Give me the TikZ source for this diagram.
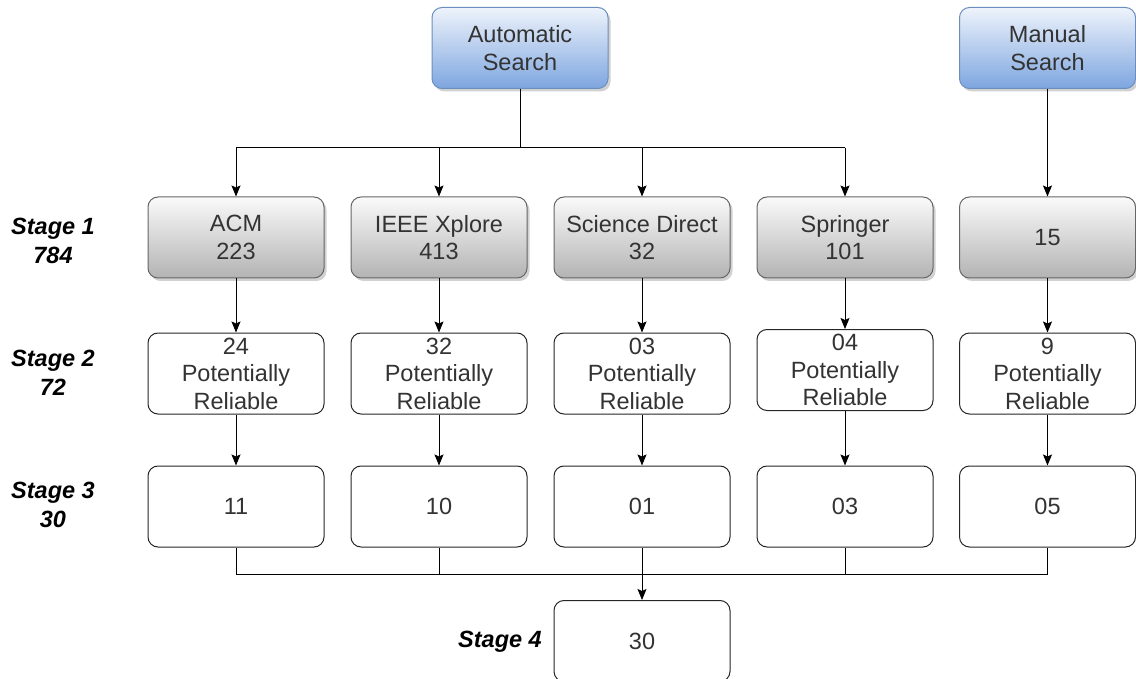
\documentclass[tikz,border=0pt]{standalone}
\usepackage{fontspec}
\setmainfont{Liberation Sans}
\usetikzlibrary{arrows.meta,shadows}
\definecolor{txt}{HTML}{333333}
\definecolor{blueedge}{HTML}{6C8EBF}
\definecolor{bluetop}{HTML}{EEF3FB}
\definecolor{bluemid}{HTML}{B5CCEE}
\definecolor{bluebot}{HTML}{7EA6E0}
\definecolor{grayedge}{HTML}{666666}
\definecolor{graytop}{HTML}{FAFAFA}
\definecolor{graymid}{HTML}{DADADA}
\definecolor{graybot}{HTML}{B3B3B3}
\begin{document}
\begin{tikzpicture}[x=1pt,y=-1pt,
  box/.style={draw=black!85, rounded corners=10pt, minimum width=176pt, minimum height=81pt,
    align=center, text=txt, font=\fontsize{23.5}{27.5}\selectfont, line width=1pt, inner sep=0pt},
  shad/.style={drop shadow={shadow xshift=2.5pt, shadow yshift=-3pt, opacity=0.3, fill=black!60}},
  bluebox/.style={box, shad, draw=blueedge, top color=bluetop, middle color=bluemid, bottom color=bluebot},
  graybox/.style={box, shad, draw=grayedge, top color=graytop, middle color=graymid, bottom color=graybot},
  whitebox/.style={box, fill=white},
  lab/.style={align=center, font=\fontsize{23.5}{28.5}\selectfont\bfseries\itshape, inner sep=0pt},
  line/.style={draw=black, line width=1pt},
  arr/.style={line, -{Stealth[length=11pt,width=9pt,inset=2pt]}}
]
\useasboundingbox (0,0) rectangle (1136,679);

% top sources
\node[bluebox] (auto) at (520,48) {Automatic\\Search};
\node[bluebox] (manual) at (1047.5,48) {Manual\\Search};

% stage 1
\node[graybox] (acm) at (236,237.5) {ACM\\223};
\node[graybox] (ieee) at (439,237.5) {IEEE Xplore\\413};
\node[graybox] (sd) at (642,237.5) {Science Direct\\32};
\node[graybox] (spr) at (845,237.5) {Springer\\101};
\node[graybox] (man) at (1047.5,237.5) {15};

% stage 2
\node[whitebox] (acm2) at (236,373.5) {24\\Potentially\\Reliable};
\node[whitebox] (ieee2) at (439,373.5) {32\\Potentially\\Reliable};
\node[whitebox] (sd2) at (642,373.5) {03\\Potentially\\Reliable};
\node[whitebox] (spr2) at (845,370) {04\\Potentially\\Reliable};
\node[whitebox] (man2) at (1047.5,373.5) {9\\Potentially\\Reliable};

% stage 3
\node[whitebox] (acm3) at (236,506.5) {11};
\node[whitebox] (ieee3) at (439,506.5) {10};
\node[whitebox] (sd3) at (642,506.5) {01};
\node[whitebox] (spr3) at (845,506.5) {03};
\node[whitebox] (man3) at (1047.5,506.5) {05};

% stage 4
\node[whitebox] (final) at (642,641) {30};

% stage labels
\node[lab] (st1) at (53,241) {Stage 1\\784};
\node[lab] (st2) at (53,373) {Stage 2\\72};
\node[lab] (st3) at (53,505) {Stage 3\\30};
\node[lab, anchor=east] (st4) at (542,642) {Stage 4};

% connectors from automatic search
\coordinate (j1) at (520,148);
\draw[line] (auto.south) -- (j1);
\draw[line] (acm.north |- j1) -- (spr.north |- j1);
\foreach \n in {acm,ieee,sd,spr} {
  \draw[arr] (\n.north |- j1) -- (\n.north);
}
\draw[arr] (manual.south) -- (man.north);

% stage 1 -> 2 -> 3
\foreach \n in {acm,ieee,sd,spr,man} {
  \draw[arr] (\n.south) -- (\n2.north);
  \draw[arr] (\n2.south) -- (\n3.north);
}

% stage 3 -> 4
\coordinate (j2) at (642,574);
\foreach \n in {acm,ieee,spr,man} {
  \draw[line] (\n3.south) -- (\n3.south |- j2);
}
\draw[line] (acm3.south |- j2) -- (man3.south |- j2);
\draw[arr] (sd3.south) -- (final.north);
\end{tikzpicture}
\end{document}
